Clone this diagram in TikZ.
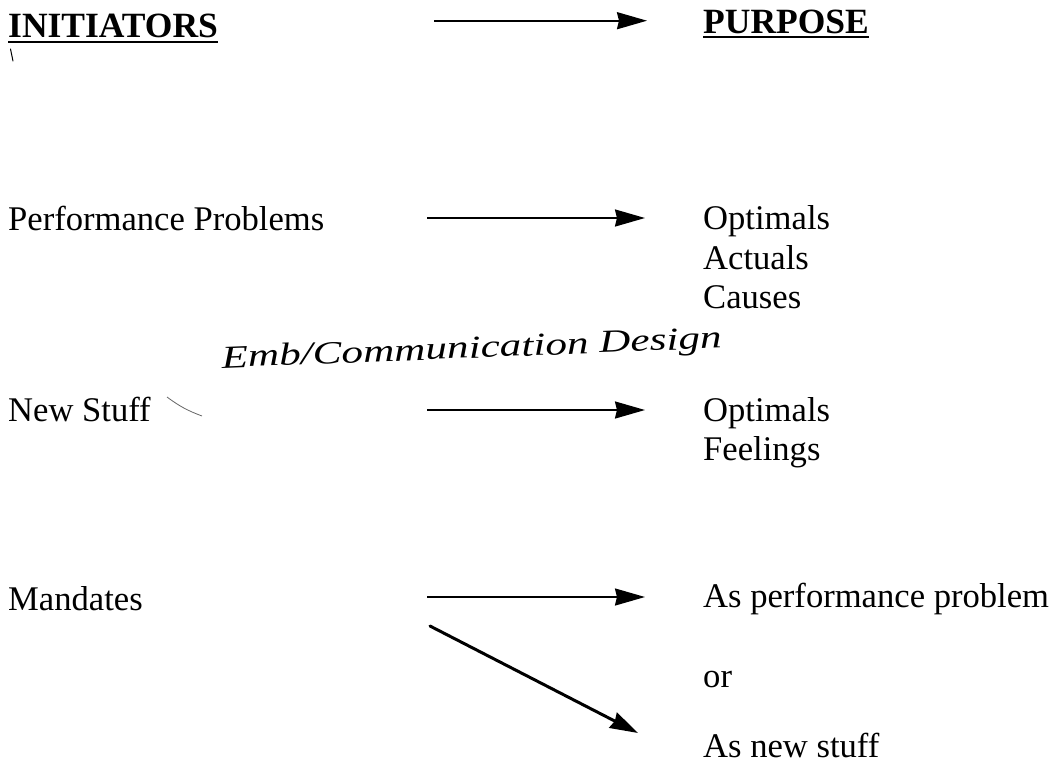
\documentclass[tikz,border=0pt]{standalone}
\usepackage{fontspec}
\setmainfont{Liberation Serif}
\usetikzlibrary{arrows.meta}
\begin{document}
\begin{tikzpicture}[x=1pt,y=-1pt,
  txt/.style={anchor=base west, inner sep=0pt, font=\fontsize{34.6}{40}\selectfont},
  heading/.style={anchor=base west, inner sep=0pt, font=\fontsize{35.5}{40}\selectfont\bfseries},
  hand/.style={anchor=base, inner sep=0pt, font=\fontsize{32}{36}\selectfont\itshape},
  underl/.style={line width=2pt},
  flow/.style={line width=2pt, -{Stealth[length=30pt,width=17pt,inset=2pt]}},
  branch/.style={line width=3pt, -{Stealth[length=28pt,width=17pt,inset=2pt]}}
]
\useasboundingbox (0,0) rectangle (1058,764);

% column headings
\node[heading] (init) at (8,37.5) {INITIATORS};
\node[heading] (purp) at (703,33) {PURPOSE};
\draw[underl] ([yshift=-4pt]init.base west) -- ([yshift=-4pt]init.base east);
\draw[underl] ([yshift=-4pt]purp.base west) -- ([yshift=-4pt]purp.base east);
\coordinate (h0) at (434,20.7);
\coordinate (h1) at (647,20.7);
\draw[flow] (h0) -- (h1);

% initiators
\node[txt] (perf) at (8,230) {Performance Problems};
\node[txt] (news) at (8,421.7) {New Stuff};
\node[txt] (mand) at (8,610) {Mandates};

% purposes
\node[txt] (p1a) at (703,229) {Optimals};
\node[txt] (p1b) at (703,269) {Actuals};
\node[txt] (p1c) at (703,308) {Causes};
\node[txt] (p2a) at (703,421.7) {Optimals};
\node[txt] (p2b) at (703,460) {Feelings};
\node[txt] (p3a) at (703,607) {As performance problem};
\node[txt] (p3b) at (703,687) {or};
\node[txt] (p3c) at (703,757) {As new stuff};

% arrows
\coordinate (a1) at (427,218);
\coordinate (b1) at (645,218);
\coordinate (a2) at (427,410);
\coordinate (b2) at (645,410);
\coordinate (a3) at (427,597);
\coordinate (b3) at (645,597);
\coordinate (a4) at (430,626);
\coordinate (b4) at (638,733);
\draw[flow] (a1) -- (b1);
\draw[flow] (a2) -- (b2);
\draw[flow] (a3) -- (b3);
\draw[branch, line cap=round] (a4) -- (b4);

% handwritten note
\node[hand, rotate=2.3, xscale=1.35] (note) at (472,358) {Emb/Communication Design};

% pen marks
\draw[line width=1pt, line cap=round] (10.5,49) -- (13,61);
\draw[black!60, line width=0.8pt] (167,397) to[bend right=8] (202,416);
\end{tikzpicture}
\end{document}
